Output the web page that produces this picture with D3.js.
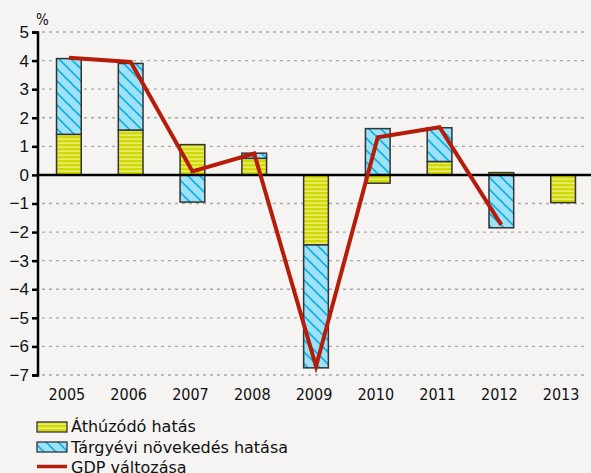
<!DOCTYPE html>
<html>
<head>
<meta charset="utf-8">
<script src="https://cdn.jsdelivr.net/npm/d3@7"></script>
<style>
  body { margin: 0; background: #f5f4f2; }
  svg { display: block; font-family: "DejaVu Sans Condensed", "DejaVu Sans", sans-serif; }
</style>
</head>
<body>
<svg width="591" height="473"></svg>
<script>
var years = ["2005", "2006", "2007", "2008", "2009", "2010", "2011", "2012", "2013"];
var carryOver = [1.42, 1.57, 1.06, 0.58, -2.45, -0.29, 0.47, 0.08, -0.97];
var currentYear = [2.65, 2.33, -0.95, 0.18, -4.3, 1.62, 1.18, -1.85, 0];
var gdp = [4.1, 3.95, 0.12, 0.75, -6.7, 1.32, 1.67, -1.75, null];
var yTicks = [5, 4, 3, 2, 1, 0, -1, -2, -3, -4, -5, -6, -7];
var legendLabels = ["Áthúzódó hatás", "Tárgyévi növekedés hatása", "GDP változása"];

var svg = d3.select("svg");

var x = d3.scaleBand().domain(years).range([38, 594]).paddingInner(0.6).paddingOuter(0.3);
var y = d3.scaleLinear().domain([-7, 5]).range([375, 32]);

var defs = svg.append("defs");
var pY = defs.append("pattern").attr("id", "pYellow").attr("patternUnits", "userSpaceOnUse")
    .attr("width", 8).attr("height", 4);
pY.append("rect").attr("width", 8).attr("height", 4).attr("fill", "#d2da00");
pY.append("rect").attr("y", 2.5).attr("width", 8).attr("height", 1.2).attr("fill", "#eef1a0");

var pB = defs.append("pattern").attr("id", "pBlue").attr("patternUnits", "userSpaceOnUse")
    .attr("width", 12).attr("height", 12);
pB.append("rect").attr("width", 12).attr("height", 12).attr("fill", "#9de2f6");
pB.append("path").attr("d", "M-3,-3L15,15M-3,9L3,15M9,-3L15,3")
    .attr("stroke", "#12b0e2").attr("stroke-width", 1.6);

// grid
svg.append("g").selectAll("line").data(yTicks.filter(function(d) { return d !== 0; }))
  .enter().append("line")
    .attr("x1", 42).attr("x2", 586)
    .attr("y1", function(d) { return y(d); }).attr("y2", function(d) { return y(d); })
    .attr("stroke", "#a8a8a8").attr("stroke-width", 1.3).attr("stroke-dasharray", "3,4");

// bars: stack positives up, negatives down
var segs = [];
years.forEach(function(yr, i) {
  var pos = 0, neg = 0;
  [[carryOver[i], "url(#pYellow)"], [currentYear[i], "url(#pBlue)"]].forEach(function(s) {
    var v = s[0];
    if (!v) return;
    if (v > 0) { segs.push({yr: yr, y0: pos, y1: pos + v, fill: s[1]}); pos += v; }
    else { segs.push({yr: yr, y0: neg, y1: neg + v, fill: s[1]}); neg += v; }
  });
});

svg.append("g").selectAll("rect").data(segs).enter().append("rect")
    .attr("x", function(d) { return x(d.yr); })
    .attr("width", x.bandwidth())
    .attr("y", function(d) { return y(Math.max(d.y0, d.y1)); })
    .attr("height", function(d) { return Math.abs(y(d.y0) - y(d.y1)); })
    .attr("fill", function(d) { return d.fill; })
    .attr("stroke", "#333").attr("stroke-width", 1.5);

// zero line
svg.append("line").attr("x1", 38).attr("x2", 591).attr("y1", y(0)).attr("y2", y(0))
    .attr("stroke", "#000").attr("stroke-width", 2.5);

// GDP line
var line = d3.line()
    .defined(function(d) { return d != null; })
    .x(function(d, i) { return x(years[i]) + x.bandwidth() / 2; })
    .y(function(d) { return y(d); });
svg.append("path").datum(gdp).attr("d", line)
    .attr("fill", "none").attr("stroke", "#b51d0a").attr("stroke-width", 4);

// y axis
var yAxis = svg.append("g").attr("transform", "translate(38,0)")
    .call(d3.axisLeft(y).tickValues(yTicks).tickSize(6).tickPadding(3)
      .tickFormat(function(d) { return d < 0 ? "\u2212" + (-d) : d; }));
yAxis.select(".domain").attr("stroke", "#000").attr("stroke-width", 2.5).attr("d", "M-6,32.5H0V375.5H-6");
yAxis.selectAll(".tick line").attr("stroke", "#000").attr("stroke-width", 2.5);
yAxis.selectAll(".tick text").attr("font-size", 17).attr("fill", "#111").attr("font-family", null);

svg.append("text").attr("x", 36).attr("y", 25).attr("font-size", 15).attr("fill", "#111").text("%");

// x labels
svg.append("g").selectAll("text").data(years).enter().append("text")
    .attr("x", function(d) { return x(d) + x.bandwidth() / 2 - 2; })
    .attr("y", 400).attr("text-anchor", "middle").attr("font-size", 16).attr("fill", "#111")
    .text(function(d) { return d; });

// legend
var lg = svg.append("g").attr("transform", "translate(37,421)");
lg.append("rect").attr("x", 0).attr("y", 1).attr("width", 30).attr("height", 10)
    .attr("fill", "url(#pYellow)").attr("stroke", "#333").attr("stroke-width", 1.3);
lg.append("rect").attr("x", 0).attr("y", 21).attr("width", 30).attr("height", 10)
    .attr("fill", "url(#pBlue)").attr("stroke", "#333").attr("stroke-width", 1.3);
lg.append("line").attr("x1", 0).attr("x2", 30).attr("y1", 45.5).attr("y2", 45.5)
    .attr("stroke", "#b51d0a").attr("stroke-width", 3.5);
lg.selectAll("text").data(legendLabels).enter().append("text")
    .attr("x", 34).attr("y", function(d, i) { return 11 + i * 20.5; })
    .attr("font-size", 16).attr("font-family", "DejaVu Sans").attr("fill", "#111")
    .text(function(d) { return d; });
</script>
</body>
</html>
